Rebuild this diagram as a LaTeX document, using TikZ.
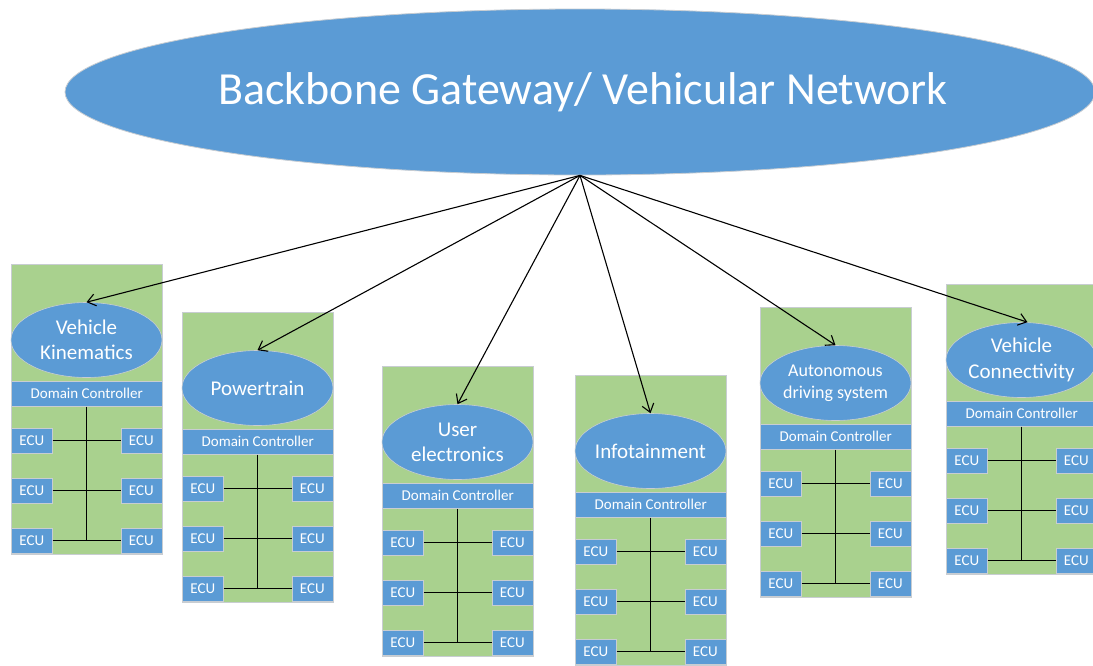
\documentclass[tikz,border=0pt]{standalone}
\usepackage{fontspec}
\setmainfont{Carlito}
\usetikzlibrary{shapes.geometric,arrows.meta}
\definecolor{offblue}{HTML}{5B9BD5}
\definecolor{offgreen}{HTML}{A9D18E}
\definecolor{edgegray}{HTML}{C8CDD2}
\tikzset{
  panelbox/.style={fill=offgreen, draw=edgegray, line width=0.6pt, minimum width=151pt, minimum height=290pt, inner sep=0pt, anchor=north west},
  domell/.style={ellipse, fill=offblue, draw=edgegray, line width=0.6pt, minimum width=151pt, minimum height=75pt, inner sep=0pt},
  domtext/.style={text=white, align=center, inner sep=0pt},
  dcbar/.style={fill=offblue, draw=edgegray, line width=0.5pt, minimum width=151pt, minimum height=25pt, inner sep=0pt, anchor=north west, text=white, font=\fontsize{15}{18}\selectfont},
  ecubox/.style={fill=offblue, draw=edgegray, line width=0.5pt, minimum width=41pt, minimum height=25pt, inner sep=0pt, text=white, font=\fontsize{15}{17}\selectfont},
  busline/.style={black, line width=1.3pt},
  gwarrow/.style={black, line width=1.1pt, -{Straight Barb[length=8pt,width=12pt,line width=1.1pt]}},
  gwshape/.style={ellipse, fill=offblue, draw=edgegray, line width=0.8pt, minimum width=1030pt, minimum height=166pt, inner sep=0pt},
  gwtext/.style={text=white, font=\fontsize{46}{50}\selectfont, inner sep=0pt}
}
% #1 name, #2 x0, #3 y0, #4 label, #5 font
\newcommand\drawpanel[5]{%
  \node[panelbox] (#1) at (#2,#3) {};
  \node[domell, label={[domtext, font=#5]center:#4}] (#1e) at (#2+75.5,#3+76) {};
  \node[dcbar] (#1dc) at (#2,#3+117) {Domain Controller};
  \node[ecubox, anchor=north west] (#1la) at (#2,#3+164) {ECU};
  \node[ecubox, anchor=north west] (#1lb) at (#2,#3+214) {ECU};
  \node[ecubox, anchor=north west] (#1lc) at (#2,#3+264) {ECU};
  \node[ecubox, anchor=north east] (#1ra) at (#2+151,#3+164) {ECU};
  \node[ecubox, anchor=north east] (#1rb) at (#2+151,#3+214) {ECU};
  \node[ecubox, anchor=north east] (#1rc) at (#2+151,#3+264) {ECU};
  \draw[busline] (#1dc.south) -- (#1dc.south |- #1lc.east);
  \draw[busline] (#1la.east) -- (#1ra.west);
  \draw[busline] (#1lb.east) -- (#1rb.west);
  \draw[busline] (#1lc.east) -- (#1rc.west);
}
\begin{document}
\begin{tikzpicture}[x=1pt, y=-1pt]
  \clip (0,0) rectangle (1093,665);
  \fill[white] (0,0) rectangle (1093,665);
  \node[gwshape] (gw) at (580,92) {};
  \node[gwtext] (gwlabel) at (583,92) {Backbone Gateway/ Vehicular Network};
  \drawpanel{pa}{11}{264}{Vehicle\\Kinematics}{\fontsize{21}{25}\selectfont}
  \drawpanel{pb}{182}{312}{Powertrain}{\fontsize{21}{25}\selectfont}
  \drawpanel{pc}{382}{366}{User\\electronics}{\fontsize{21}{25}\selectfont}
  \drawpanel{pd}{575}{375}{Infotainment}{\fontsize{21}{25}\selectfont}
  \drawpanel{pe}{760}{307}{Autonomous\\driving system}{\fontsize{18}{22}\selectfont}
  \drawpanel{pf}{946}{284}{Vehicle\\Connectivity}{\fontsize{21}{26}\selectfont}
  \draw[gwarrow] (gw.south) -- (pae.north);
  \draw[gwarrow] (gw.south) -- (pbe.north);
  \draw[gwarrow] (gw.south) -- (pce.north);
  \draw[gwarrow] (gw.south) -- (pde.north);
  \draw[gwarrow] (gw.south) -- (pee.north);
  \draw[gwarrow] (gw.south) -- ([xshift=6pt]pfe.north);
\end{tikzpicture}
\end{document}
